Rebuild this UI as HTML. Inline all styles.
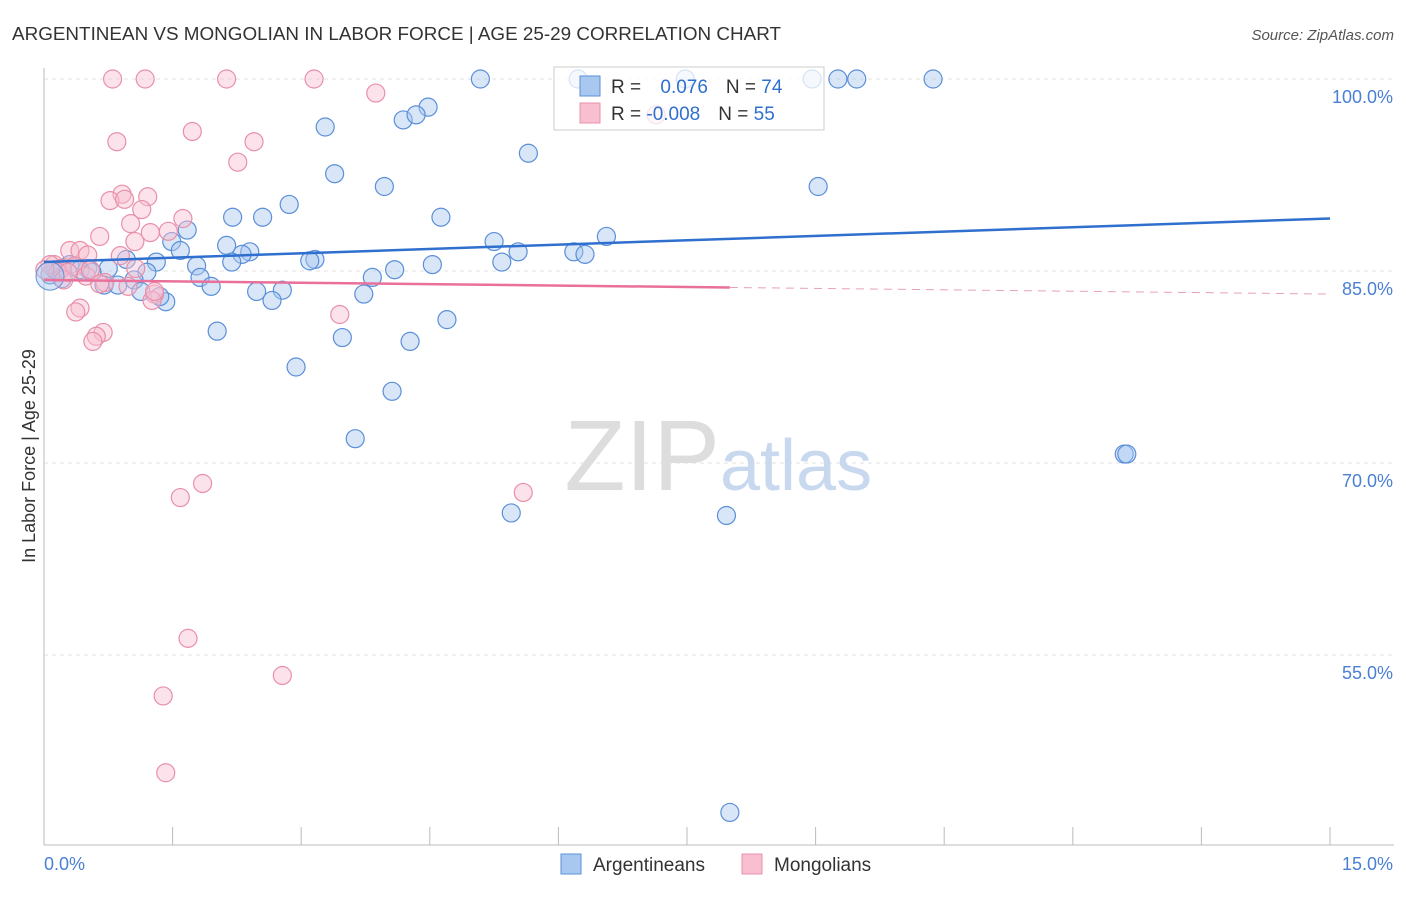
<!DOCTYPE html>
<html><head><meta charset="utf-8"><style>
body{margin:0;background:#fff;font-family:"Liberation Sans",sans-serif}
svg text{font-family:"Liberation Sans",sans-serif}
</style></head><body>
<svg width="1406" height="892" viewBox="0 0 1406 892">
<text x="12" y="40" font-size="18" fill="#333" textLength="769" lengthAdjust="spacingAndGlyphs">ARGENTINEAN VS MONGOLIAN IN LABOR FORCE | AGE 25-29 CORRELATION CHART</text>
<text x="1394" y="40" font-size="15" fill="#555" text-anchor="end" font-style="italic">Source: ZipAtlas.com</text>
<text x="35" y="456" font-size="18" fill="#333" text-anchor="middle" transform="rotate(-90 35 456)">In Labor Force | Age 25-29</text>
<g id="grid"></g>
<g id="axes"></g>
<text x="720" y="490" font-size="100" fill="#ddd" font-family="Liberation Serif" text-anchor="end">ZIP</text>
<text x="720" y="490" font-size="72" fill="#c8d8ee">atlas</text>
<g id="pts"></g>
<g id="trends"></g>
<g>
<rect x="554" y="67" width="270" height="63" fill="#fff" fill-opacity="0.75" stroke="#ccc"/>
<rect x="580" y="76" width="20" height="20" fill="#a9c8f0" stroke="#5b8fd8"/>
<rect x="580" y="103" width="20" height="20" fill="#f8bfd0" stroke="#e890aa"/>
<text x="611" y="93" font-size="19" fill="#333">R = <tspan fill="#2f6fce" dx="14">0.076</tspan><tspan dx="18" fill="#333">N = </tspan><tspan fill="#2f6fce">74</tspan></text>
<text x="611" y="120" font-size="19" fill="#333">R = <tspan fill="#2f6fce">-0.008</tspan><tspan dx="18" fill="#333">N = </tspan><tspan fill="#2f6fce">55</tspan></text>
</g>
<g>
<rect x="561" y="854" width="20" height="20" fill="#a9c8f0" stroke="#5b8fd8"/>
<text x="593" y="871" font-size="19" fill="#333">Argentineans</text>
<rect x="742" y="854" width="20" height="20" fill="#f8bfd0" stroke="#e890aa"/>
<text x="774" y="871" font-size="19" fill="#333">Mongolians</text>
</g>
</svg>
<script>
const yTicks=[100,85,70,55];
const yTickLabels=["100.0%","85.0%","70.0%","55.0%"];
const xTickLabels=["0.0%","15.0%"];
const blueX=[5.09,6.23,7.48,8.96,9.26,9.48,10.37,4.48,4.19,4.34,3.28,5.65,3.39,3.97,9.03,2.86,2.20,2.55,4.63,1.67,6.56,1.49,5.25,2.13,1.59,2.40,2.31,5.53,6.18,6.31,3.16,3.10,5.34,4.53,0.96,1.31,1.78,0.75,1.20,0.51,0.21,0.30,3.83,1.82,1.95,1.05,0.70,0.86,0.21,2.48,2.78,1.13,3.73,2.66,1.42,4.70,2.02,3.48,4.27,2.94,4.06,3.63,12.60,12.63,5.45,7.96,8.00,0.07,0.13,0.42,0.56,1.35,2.19,4.09];
const blueY=[100,100,100,100,100,100,100,97.8,96.8,97.2,96.25,94.2,92.6,91.6,91.6,90.2,89.2,89.2,89.2,88.2,87.7,87.3,87.3,87.0,86.6,86.5,86.3,86.5,86.5,86.3,85.9,85.8,85.7,85.5,85.9,85.7,85.4,85.2,84.9,85.2,85.2,85.5,84.5,84.5,83.8,84.3,83.9,83.9,84.4,83.4,83.5,83.4,83.2,82.7,82.6,81.2,80.3,79.8,79.5,77.5,75.6,71.9,70.7,70.7,66.1,65.9,42.7,84.7,85.1,85.1,84.9,83.0,85.7,85.1];
const pinkX=[0.80,1.18,2.13,3.15,3.87,1.73,0.85,2.45,2.26,0.91,1.21,0.77,0.94,1.14,1.62,1.01,1.45,1.24,0.65,1.06,0.30,0.42,0.51,0.89,0.12,0.19,0.36,0.07,0.16,0.49,0.71,0.98,1.29,1.26,0.42,0.37,3.45,0.69,0.61,0.57,5.59,1.59,1.85,1.68,2.78,1.39,1.42,7.14,1.07,0.23,0.01,0.28,0.54,0.65,1.29];
const pinkY=[100,100,100,100,98.9,95.9,95.1,95.1,93.5,91.0,90.8,90.5,90.6,89.8,89.1,88.7,88.1,88.0,87.7,87.3,86.6,86.6,86.25,86.2,85.5,85.2,85.4,85.5,84.9,84.6,84.1,83.8,83.2,82.7,82.1,81.8,81.6,80.2,79.9,79.5,67.7,67.3,68.4,56.3,53.4,51.8,45.8,97.2,85.2,84.3,85.1,84.9,85.1,84.0,83.4];
const blueTrend=[85.7,89.1];
const pinkTrend=[84.3,83.2];
const NS="http://www.w3.org/2000/svg";
const xs=v=>44+v*(1286/15);
const ys=v=>79+(100-v)*12.8;
function mk(t,a,p){const e=document.createElementNS(NS,t);for(const k in a)e.setAttribute(k,a[k]);p.appendChild(e);return e;}
const grid=document.getElementById('grid'),axes=document.getElementById('axes'),pts=document.getElementById('pts'),tr=document.getElementById('trends');
yTicks.forEach((v,i)=>{
 const l=mk('line',{x1:44,x2:1394,y1:ys(v),y2:ys(v),stroke:'#e2e2e2','stroke-dasharray':'4,4'},grid);
 
 
 const t=mk('text',{x:1393,y:ys(v)+24,'font-size':18,fill:'#4a7fd4','text-anchor':'end'},grid);
 t.textContent=yTickLabels[i];
 
 
});
const ax=mk('line',{x1:44,x2:44,y1:68,y2:845,stroke:'#bbb'},axes);


const bx=mk('line',{x1:44,x2:1394,y1:845,y2:845,stroke:'#bbb'},axes);


for(let i=0;i<=10;i++){
 const tk=mk('line',{x1:xs(i*1.5),x2:xs(i*1.5),y1:827,y2:845,stroke:'#bbb'},axes);
 
 
}
[[0,44,'start'],[15,1393,'end']].forEach((d,i)=>{
 const t=mk('text',{x:d[1],y:870,'font-size':18,fill:'#4a7fd4','text-anchor':d[2]},axes);
 t.textContent=xTickLabels[i];
 
 
});
function dots(X,Y,fill,stroke,name){
 X.forEach((x,i)=>{
  const c=mk('circle',{cx:xs(x),cy:ys(Y[i]),r:9,fill:fill,'fill-opacity':0.45,stroke:stroke,'stroke-width':1.2},pts);
  
  
 });
}
dots(blueX,blueY,'#a9c8f0','#5b8fd8','argentinean-point');
dots(pinkX,pinkY,'#f8bfd0','#e890aa','mongolian-point');
const big=mk('circle',{cx:xs(0.07),cy:ys(84.6),r:14,fill:'#a9c8f0','fill-opacity':0.45,stroke:'#5b8fd8'},pts);


const bl=mk('line',{x1:xs(0),y1:ys(blueTrend[0]),x2:xs(15),y2:ys(blueTrend[1]),stroke:'#2f6fce','stroke-width':2.5},tr);


const pAt=x=>pinkTrend[0]+(pinkTrend[1]-pinkTrend[0])*x/15;
const pl=mk('line',{x1:xs(0),y1:ys(pAt(0)),x2:xs(8),y2:ys(pAt(8)),stroke:'#e8709a','stroke-width':2.5},tr);


const pd=mk('line',{x1:xs(8),y1:ys(pAt(8)),x2:xs(15),y2:ys(pAt(15)),stroke:'#e8a0b8','stroke-width':1,'stroke-dasharray':'8,6'},tr);


</script>
</body></html>
